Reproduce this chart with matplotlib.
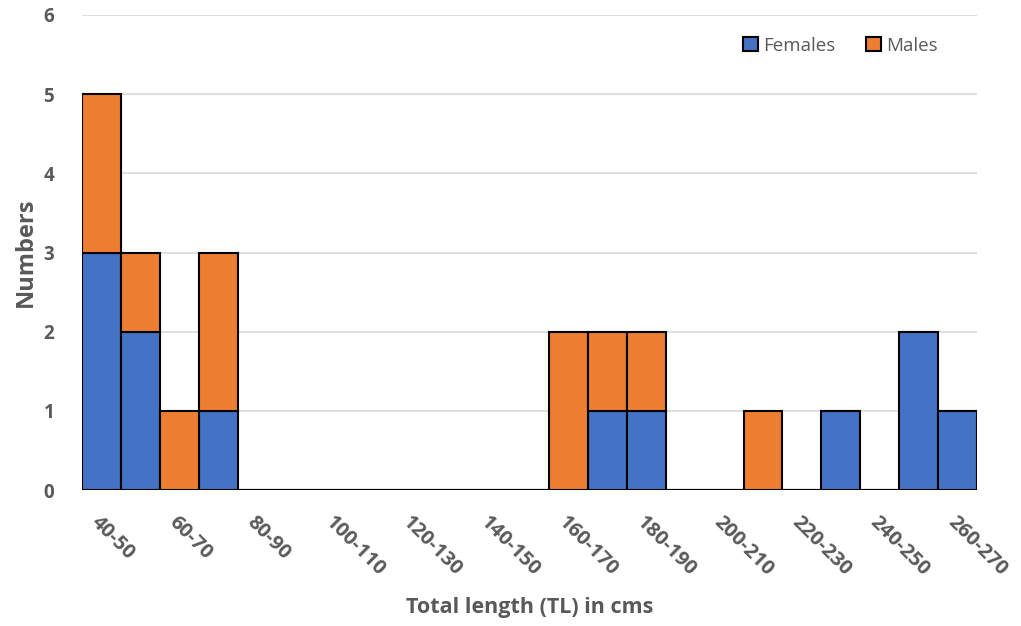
import matplotlib
matplotlib.use("Agg")
import matplotlib.pyplot as plt
import numpy as np

plt.rcParams['font.family'] = ['Open Sans', 'DejaVu Sans']

categories = ["40-50", "50-60", "60-70", "70-80", "80-90", "90-100", "100-110",
              "110-120", "120-130", "130-140", "140-150", "150-160", "160-170",
              "170-180", "180-190", "190-200", "200-210", "210-220", "220-230",
              "230-240", "240-250", "250-260", "260-270"]
females = [3, 2, 0, 1, 0, 0, 0, 0, 0, 0, 0, 0, 0, 1, 1, 0, 0, 0, 0, 1, 0, 2, 1]
males   = [2, 1, 1, 2, 0, 0, 0, 0, 0, 0, 0, 0, 2, 1, 1, 0, 0, 1, 0, 0, 0, 0, 0]

blue = "#4472C4"
orange = "#ED7D31"
gray = "#595959"

fig = plt.figure(figsize=(10.21, 6.26), dpi=100)
ax = fig.add_axes([82/1021, 136/626, (977-82)/1021, (490-15)/626])

x = np.arange(len(categories))
ax.bar(x, females, width=1.0, color=blue, edgecolor="black", linewidth=1.5,
       label="Females", zorder=3)
ax.bar(x, males, width=1.0, bottom=females, color=orange, edgecolor="black",
       linewidth=1.5, label="Males", zorder=3)

ax.set_xlim(-0.5, len(categories) - 0.5)
ax.set_ylim(0, 6)
ax.set_yticks(range(0, 7))
ax.yaxis.grid(True, color="#D9D9D9", linewidth=1.2, zorder=0)
ax.set_axisbelow(True)
for s in ax.spines.values():
    s.set_visible(False)

ax.set_xticks(x[::2])
ax.set_xticklabels(categories[::2], rotation=-45, ha="left", va="top",
                   rotation_mode="anchor", fontsize=14.5, fontweight="bold",
                   color=gray)
ax.tick_params(axis="x", length=0, pad=16)
ax.tick_params(axis="y", length=0, pad=20, labelsize=13.5, labelcolor=gray)
for t in ax.get_yticklabels():
    t.set_fontweight("bold")

ax.set_ylabel("Numbers", fontsize=17, fontweight="bold", color=gray, labelpad=4)
ax.set_xlabel("Total length (TL) in cms", fontsize=15.5, fontweight="bold",
              color=gray, labelpad=12)

leg = ax.legend(loc="upper right", bbox_to_anchor=(0.975, 0.99), ncol=2,
                frameon=False, fontsize=13.5, handlelength=0.8, handleheight=0.8,
                handletextpad=0.3, columnspacing=1.6)
for t in leg.get_texts():
    t.set_color(gray)

fig.savefig("out.png", dpi=100)
